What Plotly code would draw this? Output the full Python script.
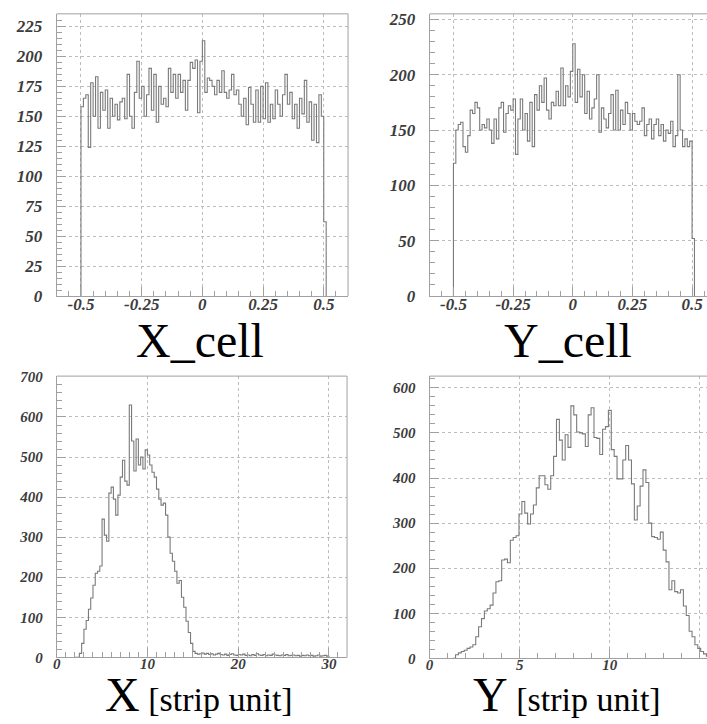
import numpy as np
import plotly.graph_objects as go

W, H = 707, 724

# ---- X_cell histogram: 100 bins of 0.01 from -0.5, plus one edge bin ----
XCELL_START, XCELL_WIDTH = -0.5, 0.01
xcell_counts = [
    158, 165, 168, 124, 178, 150, 183, 140, 170, 155,
    172, 140, 165, 150, 160, 147, 162, 165, 148, 185,
    150, 140, 170, 196, 165, 175, 150, 168, 190, 155,
    185, 145, 175, 160, 165, 158, 190, 170, 185, 165,
    185, 170, 180, 155, 180, 195, 190, 197, 153, 196,
    213, 170, 182, 180, 175, 168, 180, 170, 188, 170,
    165, 172, 185, 168, 172, 160, 150, 165, 143, 174,
    160, 145, 172, 145, 175, 148, 178, 145, 160, 148,
    172, 160, 150, 168, 185, 160, 170, 148, 160, 140,
    165, 152, 180, 145, 162, 130, 160, 128, 168, 150,
    62,
]

# ---- Y_cell histogram ----
YCELL_START, YCELL_WIDTH = -0.5, 0.01
ycell_counts = [
    120, 150, 155, 157, 135, 130, 145, 168, 165, 175,
    170, 150, 155, 152, 160, 150, 138, 160, 142, 170,
    175, 148, 165, 172, 168, 178, 128, 160, 178, 150,
    165, 140, 175, 135, 182, 168, 190, 175, 197, 168,
    160, 175, 172, 185, 172, 206, 172, 190, 180, 203,
    228, 175, 205, 180, 200, 165, 185, 160, 170, 178,
    200, 148, 170, 160, 152, 165, 182, 150, 186, 150,
    168, 155, 175, 165, 150, 165, 158, 155, 158, 170,
    145, 155, 160, 142, 155, 160, 145, 155, 140, 150,
    147, 158, 135, 145, 200, 150, 135, 142, 135, 140,
    52,
]

# ---- X [strip unit] histogram: bins of 0.25 from 2.0 to 30.0 ----
XSTRIP_START, XSTRIP_WIDTH = 2.0, 0.25
xstrip_counts = [
    0, 0, 10, 35, 70, 92, 120, 148, 180, 210, 215, 228,
    345, 305, 290, 410, 425, 395, 355, 405, 450, 492, 440, 430,
    630, 540, 465, 545, 480, 500, 470, 518, 505, 480, 462, 450,
    420, 395, 380, 385, 355, 300, 260, 240, 215, 185, 192, 150,
    125, 90, 62, 35, 15, 10, 8, 9,
    11, 8, 10, 7, 9, 6, 8, 10, 7, 6, 8, 5, 7, 9, 6, 5,
    7, 6, 8, 5, 6, 4, 7, 5, 9, 6, 5, 7, 4, 6, 5, 8,
    6, 5, 4, 6, 5, 7, 4, 5, 6, 4, 5, 3, 5, 4, 6, 4,
    5, 3, 4, 6, 3, 4, 5, 3,
]

# ---- Y [strip unit] histogram: bins of 0.16 from 1.28 ----
YSTRIP_START, YSTRIP_WIDTH = 1.28, 0.16
ystrip_counts = [
    0, 8, 12, 15, 18, 22, 25, 30, 48, 70, 88, 105, 110, 118, 145, 170,
    172, 218, 220, 212, 262, 268, 272, 320, 348, 322, 298, 320, 340, 378,
    405, 405, 385, 375, 405, 448, 530, 484, 440, 496, 468, 560, 540, 502,
    500, 498, 470, 540, 556, 490, 488, 452, 508, 514, 550, 463, 448, 398,
    398, 440, 472, 440, 387, 307, 338, 382, 418, 390, 300, 270, 268, 264,
    280, 240, 214, 152, 172, 148, 145, 152, 116, 95, 60, 48, 30, 22,
    15, 10, 5, 2, 0,
]

# ---- tick labels ----
cell_ticks = [-0.5, -0.25, 0, 0.25, 0.5]
cell_tick_text = ["-0.5", "-0.25", "0", "0.25", "0.5"]
xcell_yticks = [0, 25, 50, 75, 100, 125, 150, 175, 200, 225]
ycell_yticks = [0, 50, 100, 150, 200, 250]
xstrip_xticks = [0, 10, 20, 30]
ystrip_xticks = [0, 5, 10, 15]
xstrip_yticks = [0, 100, 200, 300, 400, 500, 600, 700]
ystrip_yticks = [0, 100, 200, 300, 400, 500, 600]

LINE = "#7a7a7a"
AXIS = "#a0a0a0"
GRID = "#bdbdbd"
SERIF = "'Times New Roman', 'Liberation Serif', Times, serif"


def tick_labels(values):
    # bold italic serif tick labels, written as rich text
    return ["<b><i>%s</i></b>" % v for v in values]


def step_trace(start, width, counts, axis):
    edges = start + width * np.arange(len(counts) + 1)
    xs = [edges[0]] + list(edges)
    ys = [0] + list(counts) + [0]
    return go.Scatter(x=xs, y=ys, mode="lines", line_shape="hv",
                      line=dict(color=LINE, width=1.1),
                      xaxis="x" + axis, yaxis="y" + axis,
                      hoverinfo="skip", showlegend=False)


def px_x(p):
    return p / W


def px_y(p):
    return 1 - p / H


fig = go.Figure()
fig.add_trace(step_trace(XCELL_START, XCELL_WIDTH, xcell_counts, ""))
fig.add_trace(step_trace(YCELL_START, YCELL_WIDTH, ycell_counts, "2"))
fig.add_trace(step_trace(XSTRIP_START, XSTRIP_WIDTH, xstrip_counts, "3"))
fig.add_trace(step_trace(YSTRIP_START, YSTRIP_WIDTH, ystrip_counts, "4"))

# panel boxes in pixels: (left, right, top, bottom)
panels = {
    "": (53, 346, 7, 296),
    "2": (428, 707, 7, 296),
    "3": (53, 345, 378, 666),
    "4": (428, 707, 378, 667),
}
xranges = {"": [-0.6, 0.6], "2": [-0.6, 0.5625], "3": [0, 32], "4": [0, 15.39]}
yranges = {"": [0, 235.5], "2": [0, 255], "3": [0, 702], "4": [0, 626]}
xtickvals = {"": cell_ticks, "2": cell_ticks, "3": xstrip_xticks, "4": ystrip_xticks}
xticktext = {"": cell_tick_text, "2": cell_tick_text,
             "3": [str(v) for v in xstrip_xticks], "4": [str(v) for v in ystrip_xticks]}
xminor = {"": 0.05, "2": 0.05, "3": 1, "4": 1}
ytickvals = {"": xcell_yticks, "2": ycell_yticks, "3": xstrip_yticks, "4": ystrip_yticks}
yminor = {"": 5, "2": 10, "3": 20, "4": 20}
fsize = {"": 17, "2": 17, "3": 15, "4": 15}

layout = dict(width=W, height=H, margin=dict(l=0, r=0, t=0, b=0),
              paper_bgcolor="white", plot_bgcolor="white", showlegend=False,
              font=dict(family=SERIF))
shapes = []
for k, (l, r, t, b) in panels.items():
    common = dict(showline=True, linecolor=AXIS, linewidth=1,
                  showgrid=True, gridcolor=GRID, griddash="dot", gridwidth=1,
                  zeroline=False, ticks="inside", ticklen=9, tickcolor=AXIS,
                  tickfont=dict(family=SERIF, size=fsize[k], color="#3c3c3c"),
                  fixedrange=True)
    layout["xaxis" + k] = dict(
        common, domain=[px_x(l), px_x(r)], range=xranges[k],
        anchor="y" + k, tickmode="array", tickvals=xtickvals[k],
        ticktext=tick_labels(xticktext[k]), ticklabelstandoff=-7,
        minor=dict(tickmode="linear", tick0=0, dtick=xminor[k], ticks="inside",
                   ticklen=5, tickcolor=AXIS, showgrid=False))
    layout["yaxis" + k] = dict(
        common, domain=[px_y(b), px_y(t)], range=yranges[k],
        anchor="x" + k, tickmode="array", tickvals=ytickvals[k],
        ticktext=tick_labels(ytickvals[k]), ticklabelstandoff=10,
        minor=dict(tickmode="linear", tick0=0, dtick=yminor[k], ticks="inside",
                   ticklen=5, tickcolor=AXIS, showgrid=False))
    xd = "x" + k + " domain" if k else "x domain"
    yd = "y" + k + " domain" if k else "y domain"
    shapes.append(dict(type="line", xref=xd, yref=yd, x0=0, x1=1, y0=1, y1=1,
                       line=dict(color=AXIS, width=1)))
    if r < W:
        shapes.append(dict(type="line", xref=xd, yref=yd, x0=1, x1=1, y0=0, y1=1,
                           line=dict(color=AXIS, width=1)))
layout["shapes"] = shapes

TITLE_FONT = dict(family=SERIF, size=48, color="black")
small = "<span style='font-size:34px'> [strip unit]</span>"
layout["annotations"] = [
    dict(text="X_cell", x=px_x(197), y=px_y(342), xref="paper", yref="paper",
         showarrow=False, font=TITLE_FONT, xanchor="center", yanchor="middle"),
    dict(text="Y_cell", x=px_x(567), y=px_y(342), xref="paper", yref="paper",
         showarrow=False, font=TITLE_FONT, xanchor="center", yanchor="middle"),
    dict(text="X" + small, x=px_x(196), y=px_y(704), xref="paper", yref="paper",
         showarrow=False, font=TITLE_FONT, xanchor="center", yanchor="middle"),
    dict(text="Y" + small, x=px_x(566), y=px_y(704), xref="paper", yref="paper",
         showarrow=False, font=TITLE_FONT, xanchor="center", yanchor="middle"),
]

fig.update_layout(**layout)
fig.write_html("out.html")
